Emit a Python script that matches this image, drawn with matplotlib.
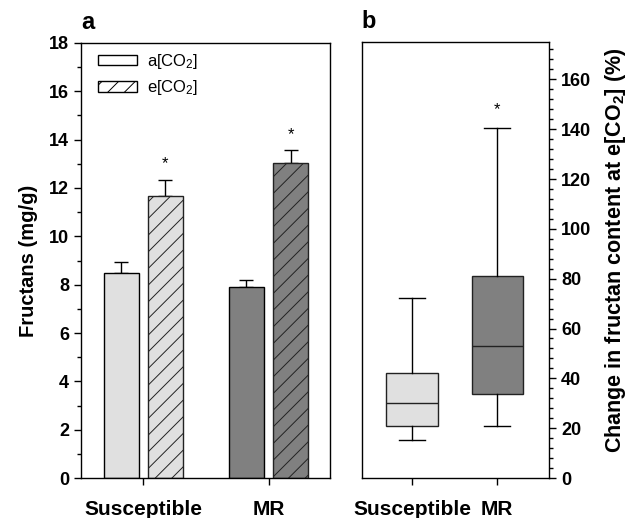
import matplotlib.pyplot as plt
import numpy as np
from matplotlib.patches import Patch
from matplotlib.ticker import MultipleLocator

plt.rcParams['font.family'] = ['Liberation Sans', 'DejaVu Sans']
plt.rcParams['font.weight'] = 'bold'
plt.rcParams['axes.labelweight'] = 'bold'
plt.rcParams['mathtext.default'] = 'regular'
plt.rcParams['hatch.linewidth'] = 0.7

# panel a data
groups = ['Susceptible', 'MR']
ambient = [8.49, 7.89]
ambient_err = [0.43, 0.29]
elevated = [11.67, 13.03]
elevated_err = [0.65, 0.53]
star_a = [13.0, 14.2]

# panel b data (box stats)
box_labels = ['Susceptible', 'MR']
whislo = [15.1, 21.0]
q1 = [20.9, 33.6]
med = [30.2, 53.1]
q3 = [42.3, 81.1]
whishi = [72.2, 140.4]
star_b = [None, 147.8]

light = '#e0e0e0'
dark = '#808080'

fig = plt.figure(figsize=(6.27, 5.18), dpi=100)
ax = fig.add_axes([0.129, 0.0772, 0.397, 0.8398])
bx = fig.add_axes([0.577, 0.0772, 0.299, 0.8417])

# ---- panel a
x = np.arange(1, len(groups) + 1)
cols = [light, dark]
w = 0.28
off = 0.176
ax.bar(x - off, ambient, w, color=cols, edgecolor='black', linewidth=1, zorder=2)
ax.bar(x + off, elevated, w, color=cols, edgecolor='#222222', linewidth=1,
       hatch='//', zorder=2)
ax.errorbar(x - off, ambient, yerr=[np.zeros(2), ambient_err], fmt='none',
            ecolor='black', elinewidth=1, capsize=5, capthick=1, zorder=1)
ax.errorbar(x + off, elevated, yerr=[np.zeros(2), elevated_err], fmt='none',
            ecolor='black', elinewidth=1, capsize=5, capthick=1, zorder=1)
for xi, s in zip(x + off, star_a):
    ax.text(xi, s, '*', ha='center', va='center', fontsize=12, fontweight='normal')

ax.set_xlim(0.5, 2.49)
ax.set_ylim(0, 18)
ax.set_xticks(x)
ax.set_xticklabels(groups, fontsize=15)
ax.yaxis.set_major_locator(MultipleLocator(2))
ax.yaxis.set_minor_locator(MultipleLocator(1))
ax.tick_params(axis='y', labelsize=13, length=5, width=1)
ax.tick_params(axis='y', which='minor', length=3, width=1)
ax.tick_params(axis='x', length=5, width=1, pad=11)
ax.set_ylabel('Fructans (mg/g)', fontsize=14.5, labelpad=8)
for sp in ax.spines.values():
    sp.set_linewidth(1)
ax.text(0.0, 1.02, 'a', transform=ax.transAxes, fontsize=17, va='bottom')

leg = ax.legend(handles=[Patch(facecolor='white', edgecolor='black', label='a[CO$_2$]'),
                         Patch(facecolor='white', edgecolor='black', hatch='//',
                               label='e[CO$_2$]')],
                loc='upper left', frameon=False, fontsize=12, handlelength=2.35,
                handleheight=0.6, labelspacing=0.45, handletextpad=0.6,
                borderpad=0, borderaxespad=0, bbox_to_anchor=(0.068, 0.98))
for t in leg.get_texts():
    t.set_fontweight('normal')

# ---- panel b
stats = []
for i in range(len(box_labels)):
    stats.append(dict(whislo=whislo[i], q1=q1[i], med=med[i], q3=q3[i],
                      whishi=whishi[i], label=box_labels[i]))
bp = bx.bxp(stats, positions=[1, 2], widths=0.6, showfliers=False,
            patch_artist=True,
            boxprops=dict(edgecolor='#222222', linewidth=1),
            medianprops=dict(color='#222222', linewidth=1),
            whiskerprops=dict(color='black', linewidth=1),
            capprops=dict(color='black', linewidth=1), capwidths=0.31)
for patch, c in zip(bp['boxes'], cols):
    patch.set_facecolor(c)
for xi, s in zip([1, 2], star_b):
    if s is not None:
        bx.text(xi, s, '*', ha='center', va='center', fontsize=12, fontweight='normal')

bx.set_xlim(0.41, 2.61)
bx.set_ylim(0, 175)
bx.yaxis.tick_right()
bx.yaxis.set_label_position('right')
bx.yaxis.set_major_locator(MultipleLocator(20))
bx.yaxis.set_minor_locator(MultipleLocator(4))
bx.tick_params(axis='y', labelsize=13, length=5, width=1)
bx.tick_params(axis='y', which='minor', length=3, width=1)
bx.tick_params(axis='x', labelsize=15, length=5, width=1, pad=11)
bx.set_ylabel('Change in fructan content at e[CO$_2$] (%)', fontsize=15.5)
bx.yaxis.set_label_coords(1.285, 0.523)
for sp in bx.spines.values():
    sp.set_linewidth(1)
bx.text(0.0, 1.02, 'b', transform=bx.transAxes, fontsize=17, va='bottom')

fig.savefig('out.png', dpi=100)
